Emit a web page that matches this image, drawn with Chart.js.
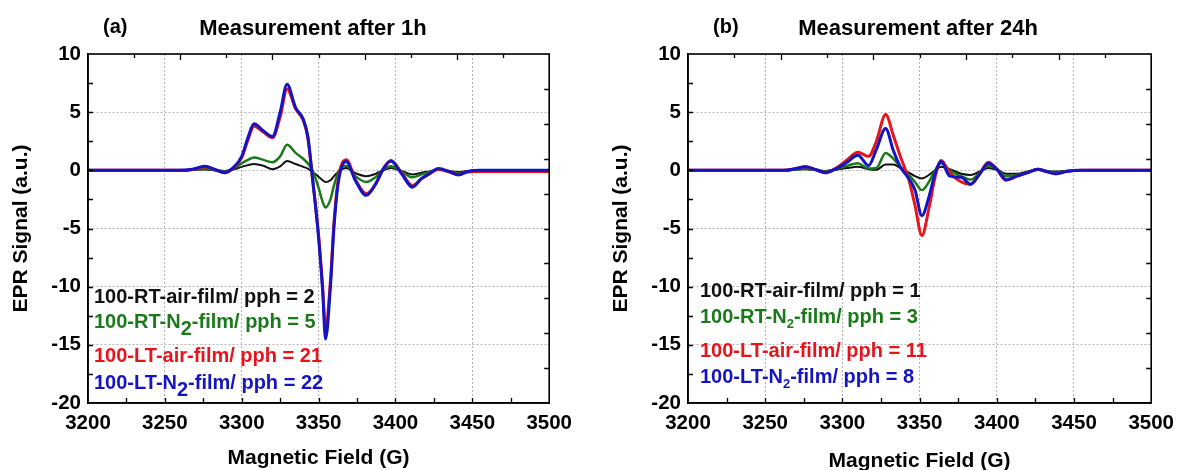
<!DOCTYPE html>
<html lang="en">
<head>
<meta charset="UTF-8">
<title>EPR spectra</title>
<script src="https://cdn.jsdelivr.net/npm/chart.js"></script>
<style>
  body { margin: 0; background: #fff; }
  #wrap { position: relative; width: 1182px; height: 470px; }
  canvas { position: absolute; top: 0; }
</style>
</head>
<body>
<div id="wrap">
  <canvas id="chart1h" width="580" height="470" style="left:0px"></canvas>
  <canvas id="chart24h" width="582" height="470" style="left:600px"></canvas>
</div>
<script>
// field positions (G) and signals (a.u.)
const fields1h = [3200, 3260, 3268, 3276, 3283, 3289, 3295, 3300, 3304, 3308, 3314, 3320, 3325, 3329.5, 3335, 3340, 3343, 3346, 3350, 3352.6,
                  3354.5, 3357.7, 3360, 3363, 3368, 3374, 3381, 3387, 3392, 3397, 3404, 3411, 3417, 3422, 3428, 3435, 3441, 3447, 3455, 3500];
const rtAir1h = [0, 0, 0.02, 0.08, 0, -0.05, 0.1, 0.3, 0.45, 0.55, 0.4, 0.1, 0.35, 0.8, 0.55, 0.3, 0.15, -0.15, -0.55, -0.85,
                 -1.0, -0.85, -0.5, -0.1, 0.2, -0.25, -0.5, -0.3, 0.0, 0.2, -0.05, -0.35, -0.2, -0.1, 0.05, -0.05, -0.15, -0.05, 0, 0];
const rtN21h = [0, 0, 0.05, 0.15, 0, -0.1, 0.2, 0.6, 0.9, 1.1, 0.9, 0.7, 1.2, 2.2, 1.5, 1.0, 0.6, 0.0, -1.5, -2.7,
                -3.2, -2.5, -1.3, -0.1, 0.4, -0.5, -1.0, -0.6, 0.05, 0.35, -0.1, -0.6, -0.35, -0.15, 0.1, -0.1, -0.25, -0.1, 0, 0];
const ltAir1h = [0, 0, 0.08, 0.3, 0.03, -0.2, 0.25, 1.1, 2.6, 3.8, 3.3, 2.8, 4.6, 7.0, 5.3, 4.3, 2.8, -0.7, -5.6, -10,
                 -13.5, -9.5, -4.5, -0.6, 0.9, -0.8, -2.0, -1.2, 0.1, 0.85, -0.2, -1.3, -0.7, -0.3, 0.1, -0.15, -0.35, -0.15, -0.1, -0.1];
const ltN21h = [0, 0, 0.1, 0.35, 0.05, -0.2, 0.3, 1.2, 2.8, 4.0, 3.4, 2.9, 5.0, 7.4, 5.4, 4.4, 2.9, -0.6, -5.8, -10.3,
                -14.5, -10, -4.9, -0.9, 0.75, -0.9, -2.15, -1.2, 0.1, 0.8, -0.3, -1.45, -0.7, -0.3, 0.15, -0.1, -0.4, -0.1, 0, 0];

const fields24h = [3200, 3262, 3270, 3276, 3283, 3289, 3296, 3303, 3310, 3317, 3322, 3328, 3333, 3337.5, 3343, 3347, 3351.5, 3356, 3360, 3364,
                   3369.5, 3377, 3383, 3389, 3394.5, 3400, 3406, 3413, 3420, 3426.5, 3432, 3438, 3445, 3455, 3500];
const rtAir24h = [0, 0, 0.05, 0.1, 0, -0.05, 0.05, 0.2, 0.3, 0.1, 0.05, 0.5, 0.5, 0.2, -0.2, -0.5, -0.7, -0.4, 0.0, 0.3,
                  0.1, -0.3, -0.4, -0.1, 0.2, 0.05, -0.3, -0.3, -0.1, 0.05, -0.05, -0.1, -0.05, 0, 0];
const rtN224h = [0, 0, 0.08, 0.15, 0.02, -0.1, 0.1, 0.4, 0.6, 0.15, 0.2, 1.5, 1.0, 0.3, -0.4, -1.0, -1.7, -1.0, 0.0, 0.6,
                 0.0, -0.5, -0.8, -0.2, 0.4, 0.1, -0.5, -0.4, -0.2, 0.05, -0.05, -0.2, -0.05, 0, 0];
const ltAir24h = [0, 0, 0.15, 0.3, 0.05, -0.2, 0.2, 0.9, 1.55, 1.2, 2.5, 4.8, 3.0, 1.2, -0.8, -3.0, -5.6, -3.3, -0.6, 0.85,
                  -0.2, -1.0, -1.2, -0.3, 0.7, 0.1, -0.85, -0.5, -0.2, 0.1, -0.1, -0.3, -0.1, 0, 0];
const ltN224h = [0, 0, 0.15, 0.3, 0.05, -0.2, 0.15, 0.7, 1.3, 0.4, 1.8, 3.6, 1.7, 0.3, -0.7, -1.7, -3.9, -2.3, -0.3, 0.75,
                 -0.5, -0.6, -1.2, -0.3, 0.6, 0.1, -0.8, -0.5, -0.2, 0.1, -0.1, -0.3, -0.1, 0, 0];

const sampleNames = ['100-RT-air-film', '100-RT-N2-film', '100-LT-air-film', '100-LT-N2-film'];
const pph1h = [2, 5, 21, 22];
const pph24h = [1, 3, 11, 8];

const colors = ['#111111', '#1a7a1a', '#e8141c', '#1414c4'];
const widths = [2, 2.5, 3, 3];
const FONT = '"Liberation Sans", Arial, sans-serif';

Chart.defaults.font.family = FONT;
Chart.defaults.color = '#000';

function toPoints(xs, ys) {
    return xs.map((x, i) => ({ x: x, y: ys[i] }));
}

// inward tick marks and closed frame, as in the origin-style plot
const framePlugin = {
    id: 'frame',
    afterDatasetsDraw(chart) {
        const ctx = chart.ctx;
        const { left, right, top, bottom } = chart.chartArea;
        const xs = chart.scales.x, ys = chart.scales.y;
        ctx.save();
        ctx.strokeStyle = '#000';
        ctx.lineWidth = 1.3;
        ctx.beginPath();
        for (let g = 3225; g < 3500; g += 25) {
            const px = Math.round(xs.getPixelForValue(g)) + 0.5;
            ctx.moveTo(px, bottom); ctx.lineTo(px, bottom - 5);
        }
        for (let v = -17.5; v < 10; v += 2.5) {
            const py = Math.round(ys.getPixelForValue(v)) + 0.5;
            ctx.moveTo(left, py); ctx.lineTo(left + 5, py);
        }
        for (let g = 3230; g < 3500; g += 30) {
            const px = Math.round(xs.getPixelForValue(g)) + 0.5;
            const len = (g - 3260) % 60 === 0 ? 6 : 4;
            ctx.moveTo(px, top); ctx.lineTo(px, top + len);
        }
        for (let v = 7; v > -20; v -= 3) {
            const py = Math.round(ys.getPixelForValue(v)) + 0.5;
            ctx.moveTo(right, py); ctx.lineTo(right - 5, py);
        }
        ctx.stroke();
        ctx.lineWidth = 1.6;
        ctx.strokeRect(left, top, right - left, bottom - top);
        ctx.restore();
    }
};

// panel letter, panel title and the coloured sample list
const textPlugin = {
    id: 'texts',
    afterDraw(chart) {
        const o = chart.options.plugins.texts;
        const ctx = chart.ctx;
        ctx.save();
        ctx.textBaseline = 'alphabetic';
        ctx.fillStyle = '#000';
        ctx.font = 'bold 20px ' + FONT;
        ctx.textAlign = 'left';
        ctx.fillText(o.letter, o.letterX, 33);
        ctx.font = 'bold 22px ' + FONT;
        ctx.textAlign = 'center';
        ctx.fillText(o.title, o.titleX, 35);
        ctx.textAlign = 'left';
        const main = 'bold 20px ' + FONT;
        sampleNames.forEach((name, i) => {
            const y = o.rows[i];
            let x = o.legendX;
            ctx.fillStyle = colors[i];
            ctx.font = main;
            const parts = name.split('N2');
            if (parts.length > 1) {
                const first = parts[0] + 'N';
                ctx.fillText(first, x, y);
                x += ctx.measureText(first).width;
                ctx.font = 'bold ' + o.subSize + 'px ' + FONT;
                ctx.fillText('2', x, y + o.subShift);
                x += ctx.measureText('2').width;
                ctx.font = main;
                ctx.fillText(parts[1] + '/ pph = ' + o.pph[i], x, y);
            } else {
                ctx.fillText(name + '/ pph = ' + o.pph[i], x, y);
            }
        });
        ctx.restore();
    }
};

function makeChart(id, fields, series, rightPad, texts, xTitleLH) {
    const order = [3, 2, 1, 0];
    const datasets = series.map((vals, i) => ({
        label: sampleNames[i],
        data: toPoints(fields, vals),
        borderColor: colors[i],
        borderWidth: widths[i],
        pointRadius: 0,
        fill: false,
        cubicInterpolationMode: 'monotone',
        order: order[i]
    }));
    return new Chart(document.getElementById(id), {
        type: 'line',
        data: { datasets: datasets },
        options: {
            responsive: false,
            animation: false,
            layout: { padding: { top: 54, right: rightPad, left: 0, bottom: 0 } },
            plugins: {
                legend: { display: false },
                tooltip: { enabled: false },
                texts: texts
            },
            scales: {
                x: {
                    type: 'linear',
                    min: 3200,
                    max: 3500,
                    ticks: {
                        stepSize: 50,
                        padding: 8,
                        maxRotation: 0,
                        color: '#000',
                        font: { size: 20.5, weight: 'bold' },
                        callback: v => String(v)
                    },
                    grid: { color: '#b4b4b4', lineWidth: 1, drawTicks: false },
                    border: { color: '#000', width: 1.5, dash: [2, 2] },
                    title: {
                        display: true,
                        text: 'Magnetic Field (G)',
                        color: '#000',
                        font: { size: 21, weight: 'bold', lineHeight: xTitleLH },
                        padding: 0
                    },
                    afterFit: s => { s.height = 67; }
                },
                y: {
                    min: -20,
                    max: 10,
                    ticks: {
                        stepSize: 5,
                        padding: 7,
                        color: '#000',
                        font: { size: 20.5, weight: 'bold' }
                    },
                    grid: { color: '#b4b4b4', lineWidth: 1, drawTicks: false },
                    border: { color: '#000', width: 1.5, dash: [2, 2] },
                    title: {
                        display: true,
                        text: 'EPR Signal (a.u.)',
                        color: '#000',
                        font: { size: 21, weight: 'bold', lineHeight: 1.2 },
                        padding: { top: 9, bottom: 0 }
                    },
                    afterFit: s => { s.width = 88; }
                }
            }
        },
        plugins: [framePlugin, textPlugin]
    });
}

makeChart('chart1h', fields1h, [rtAir1h, rtN21h, ltAir1h, ltN21h], 24, {
    letter: '(a)', letterX: 103, title: 'Measurement after 1h', titleX: 313,
    legendX: 94, rows: [303, 328, 362, 389], subSize: 20, subShift: 7, pph: pph1h
}, 1.1);

makeChart('chart24h', fields24h, [rtAir24h, rtN224h, ltAir24h, ltN224h], 25, {
    letter: '(b)', letterX: 113, title: 'Measurement after 24h', titleX: 318,
    legendX: 100, rows: [297, 323, 357, 383], subSize: 13, subShift: 5, pph: pph24h
}, 0.8);
</script>
</body>
</html>
